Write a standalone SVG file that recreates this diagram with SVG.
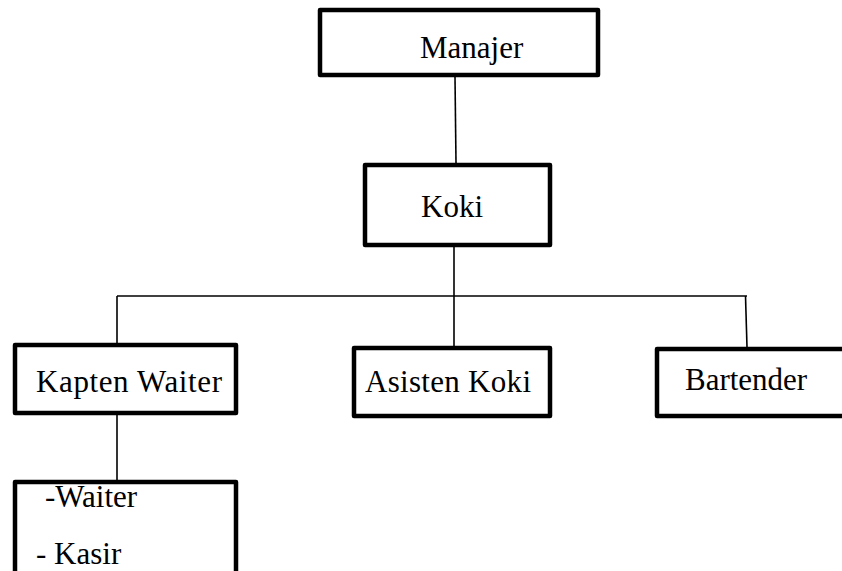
<svg xmlns="http://www.w3.org/2000/svg" width="842" height="571" viewBox="0 0 842 571">
<style>
.box{fill:#fff;stroke:#000;stroke-width:4.5;stroke-linejoin:round}
.lbl{font-family:"Liberation Serif","Times New Roman",serif;font-size:31px;fill:#000}
.ln{stroke:#000;stroke-width:1.6;fill:none}
</style>
<rect width="842" height="571" fill="#fff"/>
<g id="connectors">
<line class="ln" x1="455" y1="77" x2="456" y2="163"/>
<line class="ln" x1="454" y1="247" x2="454" y2="346"/>
<line class="ln" x1="117" y1="296" x2="747" y2="296"/>
<line class="ln" x1="117" y1="296" x2="117" y2="343"/>
<line class="ln" x1="745.5" y1="296" x2="747" y2="347"/>
<line class="ln" x1="117" y1="415" x2="117" y2="480"/>
</g>
<g id="manajer">
<rect class="box" x="320" y="10" width="278" height="65"/>
<text class="lbl" x="420" y="58">Manajer</text>
</g>
<g id="koki">
<rect class="box" x="365" y="165" width="185" height="80"/>
<text class="lbl" x="421" y="217">Koki</text>
</g>
<g id="kapten-waiter">
<rect class="box" x="15" y="345" width="221" height="68"/>
<text class="lbl" x="36" y="392" textLength="186">Kapten Waiter</text>
</g>
<g id="asisten-koki">
<rect class="box" x="354" y="348" width="196" height="68"/>
<text class="lbl" x="365" y="392" textLength="166">Asisten Koki</text>
</g>
<g id="bartender">
<rect class="box" x="657" y="349" width="200" height="67"/>
<text class="lbl" x="685" y="390" textLength="122">Bartender</text>
</g>
<g id="waiter-kasir">
<rect class="box" x="15" y="482" width="221" height="100"/>
<text class="lbl" x="45" y="507">-Waiter</text>
<text class="lbl" x="36" y="564">- Kasir</text>
</g>
</svg>
